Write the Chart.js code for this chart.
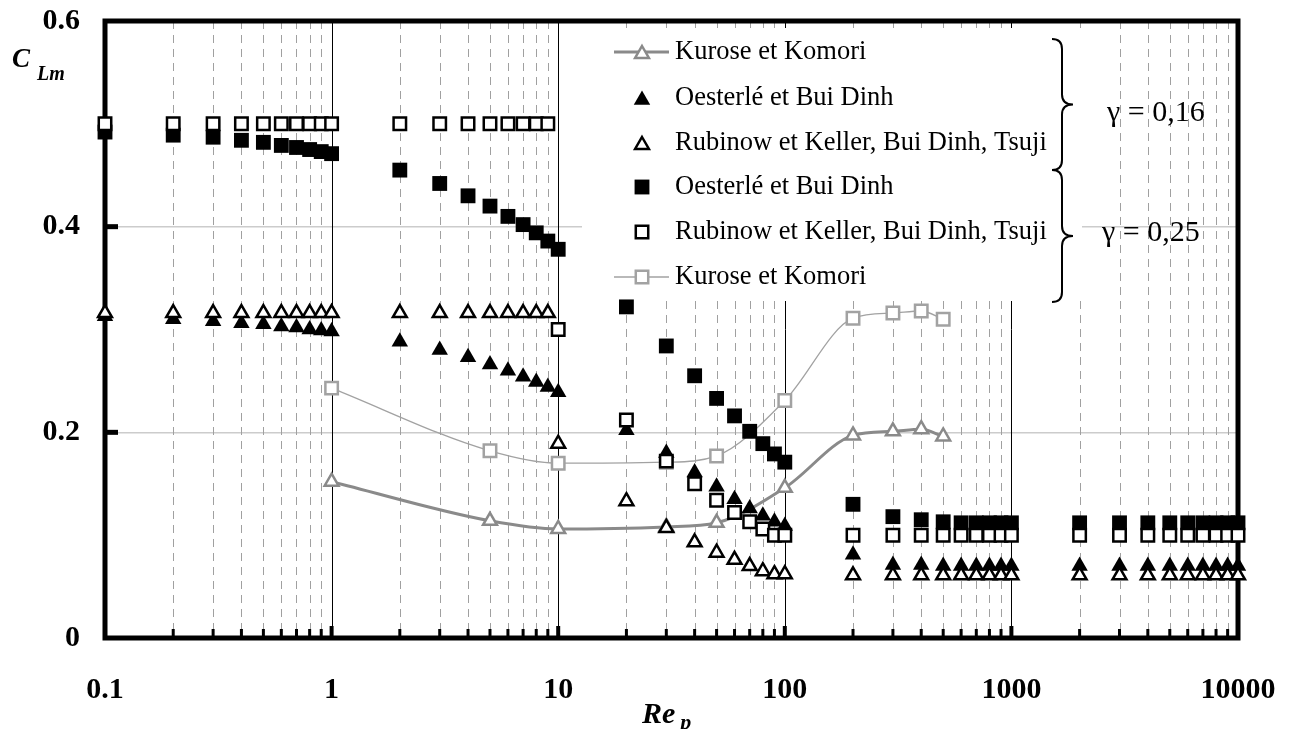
<!DOCTYPE html>
<html>
<head>
<meta charset="utf-8">
<title>CLm</title>
<script src="https://cdn.jsdelivr.net/npm/chart.js@4.4.0/dist/chart.umd.min.js"></script>
<style>
body{margin:0;background:#fff;}
</style>
</head>
<body>
<canvas id="clChart" width="1297" height="729"></canvas>
<script>
// abscisses Re_p communes aux 4 series de points
var re = [0.1,0.2,0.3,0.4,0.5,0.6,0.7,0.8,0.9,1,
          2,3,4,5,6,7,8,9,10,
          20,30,40,50,60,70,80,90,100,
          200,300,400,500,600,700,800,900,1000,
          2000,3000,4000,5000,6000,7000,8000,9000,10000];
// gamma = 0,16
var oest016 = [0.313,0.310,0.308,0.306,0.305,0.303,0.302,0.300,0.299,0.298,
               0.288,0.280,0.273,0.266,0.260,0.254,0.249,0.244,0.239,
               0.202,0.180,0.161,0.147,0.135,0.126,0.119,0.113,0.109,
               0.081,0.071,0.071,0.070,0.070,0.070,0.070,0.070,0.070,
               0.070,0.070,0.070,0.070,0.070,0.070,0.070,0.070,0.070];
var rub016 = [0.316,0.316,0.316,0.316,0.316,0.316,0.316,0.316,0.316,0.316,
              0.316,0.316,0.316,0.316,0.316,0.316,0.316,0.316,0.189,
              0.133,0.107,0.093,0.083,0.076,0.070,0.065,0.062,0.062,
              0.061,0.061,0.061,0.061,0.061,0.061,0.061,0.061,0.061,
              0.061,0.061,0.061,0.061,0.061,0.061,0.061,0.061,0.061];
// gamma = 0,25
var oest025 = [0.492,0.489,0.487,0.484,0.482,0.479,0.477,0.475,0.473,0.471,
               0.455,0.442,0.430,0.420,0.410,0.402,0.394,0.386,0.378,
               0.322,0.284,0.255,0.233,0.216,0.201,0.189,0.179,0.171,
               0.130,0.118,0.115,0.113,0.112,0.112,0.112,0.112,0.112,
               0.112,0.112,0.112,0.112,0.112,0.112,0.112,0.112,0.112];
var rub025 = [0.500,0.500,0.500,0.500,0.500,0.500,0.500,0.500,0.500,0.500,
              0.500,0.500,0.500,0.500,0.500,0.500,0.500,0.500,0.300,
              0.212,0.172,0.150,0.134,0.122,0.113,0.106,0.100,0.100,
              0.100,0.100,0.100,0.100,0.100,0.100,0.100,0.100,0.100,
              0.100,0.100,0.100,0.100,0.100,0.100,0.100,0.100,0.100];
// Kurose et Komori
var kuroseRe = [1,5,10,30,50,100,200,300,400,500];
var kurose016 = [0.152,0.114,0.106,0.108,0.112,0.146,0.197,0.201,0.203,0.196];
var kurose025 = [0.243,0.182,0.170,0.171,0.177,0.231,0.311,0.316,0.318,0.310];

var xTicks = [0.1,0.2,0.3,0.4,0.5,0.6,0.7,0.8,0.9,1,2,3,4,5,6,7,8,9,10,
              20,30,40,50,60,70,80,90,100,200,300,400,500,600,700,800,900,1000,
              2000,3000,4000,5000,6000,7000,8000,9000,10000];
var xTickLabels = ['0.1','1','10','100','1000','10000'];
var yTicks = [0,0.2,0.4,0.6];
var yTickLabels = ['0','0.2','0.4','0.6'];
var legendLabels = ['Kurose et Komori','Oesterlé et Bui Dinh','Rubinow et Keller, Bui Dinh, Tsuji',
                    'Oesterlé et Bui Dinh','Rubinow et Keller, Bui Dinh, Tsuji','Kurose et Komori'];
var gammaLabels = ['γ = 0,16','γ = 0,25'];

var GRAY1 = '#8a8a8a', GRAY2 = '#a2a2a2';
var SERIF = '"Liberation Serif", "Times New Roman", serif';

function pts(xs, ys){
    return xs.map(function(x, i){ return {x: x, y: ys[i]}; });
}
function isDecade(v){
    var lg = Math.log10(v);
    return Math.abs(lg - Math.round(lg)) < 1e-9;
}

function triangle(ctx, x, y, r, fill, stroke, bw){
    ctx.beginPath();
    ctx.moveTo(x, y - r);
    ctx.lineTo(x + 0.866 * r, y + 0.5 * r);
    ctx.lineTo(x - 0.866 * r, y + 0.5 * r);
    ctx.closePath();
    ctx.fillStyle = fill; ctx.fill();
    if (bw){ ctx.lineWidth = bw; ctx.strokeStyle = stroke; ctx.stroke(); }
}
function square(ctx, x, y, r, fill, stroke, bw){
    var h = r * Math.SQRT1_2;
    ctx.beginPath();
    ctx.rect(x - h, y - h, 2 * h, 2 * h);
    ctx.fillStyle = fill; ctx.fill();
    if (bw){ ctx.lineWidth = bw; ctx.strokeStyle = stroke; ctx.stroke(); }
}
function brace(ctx, x, y1, y2){
    var xm = x + 10, tip = x + 21, ym = (y1 + y2) / 2, r = 10;
    ctx.beginPath();
    ctx.moveTo(x, y1);
    ctx.quadraticCurveTo(xm, y1, xm, y1 + r);
    ctx.lineTo(xm, ym - r);
    ctx.quadraticCurveTo(xm, ym, tip, ym);
    ctx.quadraticCurveTo(xm, ym, xm, ym + r);
    ctx.lineTo(xm, y2 - r);
    ctx.quadraticCurveTo(xm, y2, x, y2);
    ctx.lineWidth = 2;
    ctx.strokeStyle = '#000';
    ctx.stroke();
}

var decor = {
    id: 'decor',
    beforeDatasetsDraw: function(chart){
        var ctx = chart.ctx, a = chart.chartArea;
        var xs = chart.scales.x, ys = chart.scales.y;
        ctx.save();
        // grille verticale
        xs.ticks.forEach(function(t, i){
            if (i === 0 || i === xs.ticks.length - 1) return;
            var px = Math.round(xs.getPixelForValue(t.value)) + 0.5;
            ctx.beginPath();
            if (isDecade(t.value)){
                ctx.setLineDash([]); ctx.strokeStyle = '#000'; ctx.lineWidth = 1;
            } else {
                ctx.setLineDash([8, 6]); ctx.strokeStyle = '#a0a0a0'; ctx.lineWidth = 1;
            }
            ctx.moveTo(px, a.top); ctx.lineTo(px, a.bottom);
            ctx.stroke();
        });
        ctx.setLineDash([]);
        // fond de la legende
        ctx.fillStyle = '#fff';
        ctx.fillRect(582, 28, 500, 273);
        // cadre
        ctx.lineWidth = 5; ctx.strokeStyle = '#000';
        ctx.strokeRect(a.left, a.top, a.right - a.left, a.bottom - a.top);
        // graduations interieures
        ctx.fillStyle = '#000';
        xs.ticks.forEach(function(t, i){
            if (i === 0 || i === xs.ticks.length - 1) return;
            var px = xs.getPixelForValue(t.value);
            if (isDecade(t.value)) ctx.fillRect(px - 2, a.bottom - 12, 4, 12);
            else ctx.fillRect(px - 1.5, a.bottom - 9, 3, 9);
        });
        [0.2, 0.4].forEach(function(v){
            var py = ys.getPixelForValue(v);
            ctx.fillRect(a.left, py - 2.5, 13, 5);
        });
        // legende
        var rowsY = [52, 98, 143, 187, 232, 277], mx = 642, tx = 675;
        ctx.strokeStyle = GRAY1; ctx.lineWidth = 3;
        ctx.beginPath(); ctx.moveTo(614, rowsY[0]); ctx.lineTo(669, rowsY[0]); ctx.stroke();
        triangle(ctx, mx, rowsY[0] + 2, 8, '#fff', GRAY1, 2.5);
        triangle(ctx, mx, rowsY[1] + 2, 9.5, '#000', '#000', 0);
        triangle(ctx, mx, rowsY[2] + 2, 8, '#fff', '#000', 2.5);
        square(ctx, mx, rowsY[3], 10.5, '#000', '#000', 0);
        square(ctx, mx, rowsY[4], 8.8, '#fff', '#000', 2.5);
        ctx.strokeStyle = GRAY2; ctx.lineWidth = 1.5;
        ctx.beginPath(); ctx.moveTo(614, rowsY[5]); ctx.lineTo(669, rowsY[5]); ctx.stroke();
        square(ctx, mx, rowsY[5], 8.8, '#fff', GRAY2, 2.5);
        ctx.fillStyle = '#000';
        ctx.font = '26.5px ' + SERIF;
        ctx.textAlign = 'left'; ctx.textBaseline = 'middle';
        legendLabels.forEach(function(s, i){ ctx.fillText(s, tx, rowsY[i]); });
        // accolades et gamma
        brace(ctx, 1052, 39, 170);
        brace(ctx, 1052, 170, 302);
        ctx.font = '30px ' + SERIF;
        ctx.fillText(gammaLabels[0], 1107, 113);
        ctx.fillText(gammaLabels[1], 1102, 233);
        // titres des axes
        ctx.textBaseline = 'alphabetic';
        ctx.font = 'italic bold 27px ' + SERIF;
        ctx.fillText('C', 12, 67);
        ctx.font = 'italic bold 20px ' + SERIF;
        ctx.fillText('Lm', 37, 80);
        ctx.font = 'italic bold 30px ' + SERIF;
        ctx.fillText('Re', 642, 723);
        var w = ctx.measureText('Re').width;
        ctx.font = 'italic bold 22px ' + SERIF;
        ctx.fillText('p', 642 + w + 5, 729);
        ctx.restore();
    }
};

Chart.defaults.font.family = SERIF;
Chart.defaults.color = '#000';

var ctx = document.getElementById('clChart').getContext('2d');
var myChart = new Chart(ctx, {
    type: 'scatter',
    data: {
        datasets: [{
            label: legendLabels[4] + ' (0,25)',
            data: pts(re, rub025),
            pointStyle: 'rect', pointRadius: 8.8, borderWidth: 2.5,
            borderColor: '#000', backgroundColor: '#fff'
        },{
            label: legendLabels[2] + ' (0,16)',
            data: pts(re, rub016),
            pointStyle: 'triangle', pointRadius: 8, borderWidth: 2.5,
            borderColor: '#000', backgroundColor: '#fff'
        },{
            label: legendLabels[3] + ' (0,25)',
            data: pts(re, oest025),
            pointStyle: 'rect', pointRadius: 10.5, borderWidth: 0,
            borderColor: '#000', backgroundColor: '#000'
        },{
            label: legendLabels[1] + ' (0,16)',
            data: pts(re, oest016),
            pointStyle: 'triangle', pointRadius: 9.5, borderWidth: 0,
            borderColor: '#000', backgroundColor: '#000'
        },{
            label: legendLabels[0] + ' (0,16)',
            data: pts(kuroseRe, kurose016),
            showLine: true, cubicInterpolationMode: 'monotone', tension: 0.4,
            borderColor: GRAY1, borderWidth: 3,
            pointStyle: 'triangle', pointRadius: 8, pointBorderWidth: 2.5,
            pointBorderColor: GRAY1, pointBackgroundColor: '#fff'
        },{
            label: legendLabels[5] + ' (0,25)',
            data: pts(kuroseRe, kurose025),
            showLine: true, cubicInterpolationMode: 'monotone', tension: 0.4,
            borderColor: GRAY2, borderWidth: 1.3,
            pointStyle: 'rect', pointRadius: 8.8, pointBorderWidth: 2.5,
            pointBorderColor: GRAY2, pointBackgroundColor: '#fff'
        }]
    },
    options: {
        responsive: false,
        animation: false,
        devicePixelRatio: 1,
        layout: { padding: { top: 21, right: 59, left: 0, bottom: 0 }, autoPadding: false },
        plugins: { legend: { display: false }, tooltip: { enabled: false } },
        elements: { point: { hoverRadius: 0 } },
        datasets: { scatter: { clip: false } },
        scales: {
            x: {
                type: 'logarithmic',
                min: 0.1, max: 10000,
                afterBuildTicks: function(scale){
                    scale.ticks = xTicks.map(function(v){ return {value: v}; });
                },
                afterFit: function(scale){
                    scale.height = 91;
                    scale.paddingLeft = 0; scale.paddingRight = 0;
                },
                grid: { display: false, drawTicks: false },
                border: { display: false },
                ticks: {
                    autoSkip: false, maxRotation: 0, padding: 34,
                    font: { size: 30, weight: 'bold' },
                    callback: function(value){
                        if (!isDecade(value)) return '';
                        return xTickLabels[Math.round(Math.log10(value)) + 1];
                    }
                }
            },
            y: {
                min: 0, max: 0.6,
                afterBuildTicks: function(scale){
                    scale.ticks = yTicks.map(function(v){ return {value: v}; });
                },
                afterFit: function(scale){
                    scale.width = 105;
                    scale.paddingTop = 0; scale.paddingBottom = 0;
                },
                grid: {
                    drawTicks: false, lineWidth: 1.5,
                    color: function(c){
                        var v = c.tick ? c.tick.value : 0;
                        return (v > 0.01 && v < 0.59) ? '#cccccc' : 'rgba(0,0,0,0)';
                    }
                },
                border: { display: false },
                ticks: {
                    padding: 25,
                    font: { size: 30, weight: 'bold' },
                    callback: function(value, index){ return yTickLabels[index]; }
                }
            }
        }
    },
    plugins: [decor]
});
</script>
</body>
</html>
